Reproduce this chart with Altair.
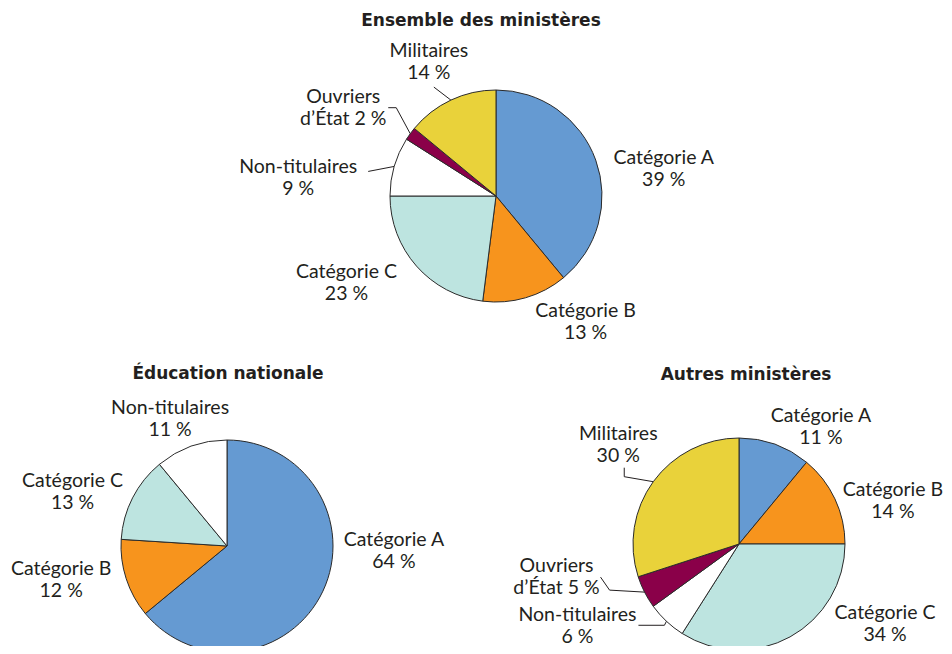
import math
import altair as alt
import pandas as pd

# ---------------- data ----------------
categories = ["Catégorie A", "Catégorie B", "Catégorie C",
              "Non-titulaires", "Ouvriers d’État", "Militaires"]
colors = ["#659AD2", "#F7941D", "#BDE4E0", "#FFFFFF", "#8A0049", "#E9D23A"]

ensemble_title = "Ensemble des ministères"
ensemble_values = [39, 13, 23, 9, 2, 14]

education_title = "Éducation nationale"
education_categories = ["Catégorie A", "Catégorie B", "Catégorie C", "Non-titulaires"]
education_values = [64, 12, 13, 11]

autres_title = "Autres ministères"
autres_values = [11, 14, 34, 6, 5, 30]

# ---------------- layout ----------------
R = 106
FONT = "Lato"
TITLE_FONT = "DejaVu Sans"
TXT = "#231F20"
LINE_H = 22

pies = [
    dict(key="ens", title=ensemble_title, cats=categories, vals=ensemble_values,
         center=(488, 188), title_pos=(473, 13),
         offsets={"Catégorie A": (68, 9), "Catégorie B": (60, 24), "Catégorie C": (-70, 17),
                  "Non-titulaires": (-96, 12), "Ouvriers d’État": (-67, -26),
                  "Militaires": (-22, -38)},
         leaders={"Militaires": [(0, 0), (-17, -13)],
                  "Ouvriers d’État": [(0, 0), (-14, -26), (-22, -26)],
                  "Non-titulaires": [(0, 0), (-26, 5)]}),
    dict(key="edu", title=education_title, cats=education_categories, vals=education_values,
         center=(219, 538), title_pos=(220, 366),
         offsets={"Catégorie A": (71, -40), "Catégorie B": (-65, 1), "Catégorie C": (-60, -6),
                  "Non-titulaires": (-21, -27)},
         leaders={}),
    dict(key="aut", title=autres_title, cats=categories, vals=autres_values,
         center=(731, 536), title_pos=(738, 367),
         offsets={"Catégorie A": (46, -17), "Catégorie B": (58, 2), "Catégorie C": (95, -13),
                  "Non-titulaires": (-89, 5), "Ouvriers d’État": (-88, -15),
                  "Militaires": (-35, -37)},
         leaders={"Militaires": [(0, 0), (-29, -5), (-29, -14)],
                  "Ouvriers d’État": [(0, 0), (-35, -2), (-44, -15)],
                  "Non-titulaires": [(0, 0), (-2, 4), (-28, 4)]}),
]

color_scale = alt.Scale(domain=categories, range=colors)

layers = []
for p in pies:
    cx, cy = p["center"]
    total = sum(p["vals"])
    rows, lead_rows = [], []
    cum = 0
    for i, (c, v) in enumerate(zip(p["cats"], p["vals"])):
        mid = (cum + v / 2) / total * 2 * math.pi
        cum += v
        rx = cx + R * math.sin(mid)
        ry = cy - R * math.cos(mid)
        ox, oy = p["offsets"][c]
        rows.append(dict(cat=c, value=v, idx=i,
                         label=f"{c}\n{v} %".replace("Ouvriers d’État\n", "Ouvriers\nd’État "),
                         lx=rx + ox, ly=ry + oy))
        for j, (dx, dy) in enumerate(p["leaders"].get(c, [])):
            lead_rows.append(dict(cat=c, k=j, x=rx + dx, y=ry + dy))
    df = pd.DataFrame(rows)

    arcs = alt.Chart(df).mark_arc(radius=R, stroke="#2b2b2b", strokeWidth=1).encode(
        theta=alt.Theta("value:Q", stack=True),
        color=alt.Color("cat:N", scale=color_scale, legend=None),
        order=alt.Order("idx:Q"),
        x=alt.value(cx), y=alt.value(cy),
    )
    labels = alt.Chart(df).mark_text(
        font=FONT, fontSize=19.5, color=TXT, align="center", baseline="middle",
        lineBreak="\n", lineHeight=LINE_H, dy=-LINE_H / 2,
    ).encode(
        x=alt.X("lx:Q", scale=None, axis=None),
        y=alt.Y("ly:Q", scale=None, axis=None),
        text="label:N",
    )
    title = alt.Chart(pd.DataFrame({"t": [p["title"]]})).mark_text(
        font=TITLE_FONT, fontSize=17, fontWeight="bold", color=TXT,
        align="center", baseline="middle",
    ).encode(text="t:N", x=alt.value(p["title_pos"][0]), y=alt.value(p["title_pos"][1]))
    layers += [arcs, labels, title]
    if lead_rows:
        ld = pd.DataFrame(lead_rows)
        leaders = alt.Chart(ld).mark_line(color=TXT, strokeWidth=1).encode(
            x=alt.X("x:Q", scale=None, axis=None),
            y=alt.Y("y:Q", scale=None, axis=None),
            detail="cat:N",
            order="k:Q",
        )
        layers.append(leaders)

chart = alt.layer(*layers).resolve_scale(theta="independent").properties(
    width=936, height=638, padding=0, autosize="none",
).configure_view(stroke=None)

chart.save("out.html", embed_options={"renderer": "svg", "actions": False})
